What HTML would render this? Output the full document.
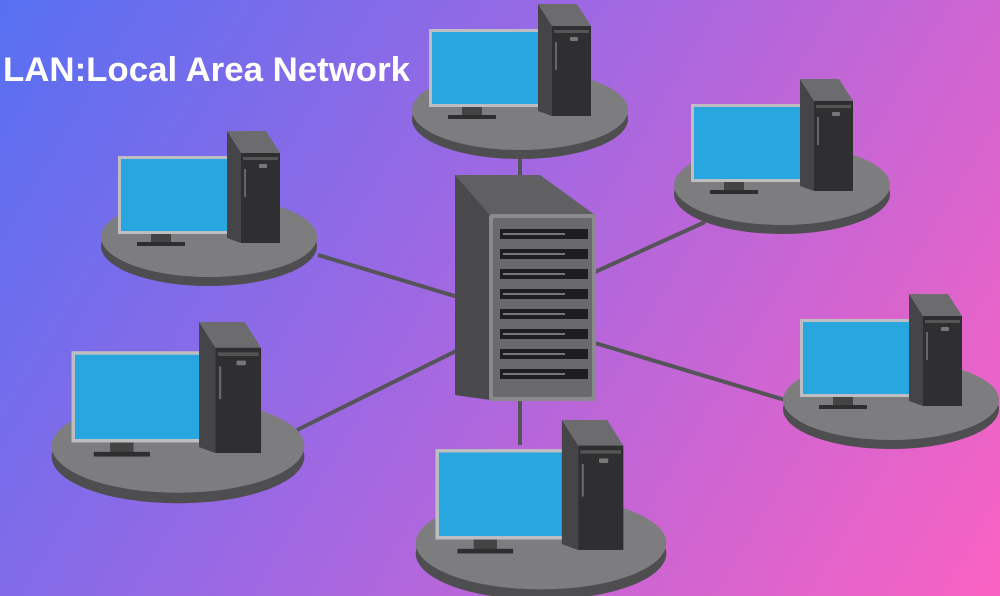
<!DOCTYPE html>
<html><head><meta charset="utf-8"><style>
html,body{margin:0;padding:0;width:1000px;height:596px;overflow:hidden}
</style></head><body>
<svg width="1000" height="596" viewBox="0 0 1000 596" xmlns="http://www.w3.org/2000/svg">
<defs>
<linearGradient id="bg" x1="0" y1="0" x2="1000" y2="596" gradientUnits="userSpaceOnUse">
<stop offset="0" stop-color="#5670f2"/>
<stop offset="0.45" stop-color="#a068e2"/>
<stop offset="1" stop-color="#fa62c2"/>
</linearGradient>
<g id="st">
<ellipse cx="0" cy="9" rx="108" ry="40" fill="#4e4e50"/>
<ellipse cx="0" cy="0" rx="108" ry="40" fill="#7d7d80"/>
<rect x="-91" y="-81" width="114" height="78" fill="#bdbdc2"/>
<rect x="-88" y="-78" width="108" height="72" fill="#27a6e0"/>
<rect x="-58" y="-3" width="20" height="9" fill="#444"/>
<rect x="-72" y="5" width="48" height="4" fill="#2e2e30"/>
<polygon points="18,-106 57,-106 71,-84 32,-84" fill="#6c6c6e"/>
<polygon points="18,-106 32,-84 32,6 18,1" fill="#454547"/>
<rect x="32" y="-84" width="39" height="90" fill="#2f2f31"/>
<rect x="34" y="-80" width="35" height="3" fill="#555"/>
<rect x="50" y="-73" width="8" height="4" rx="1" fill="#777"/>
<rect x="35" y="-68" width="2" height="28" fill="#666"/>
</g>
</defs>
<rect width="1000" height="596" fill="url(#bg)"/>
<g stroke="#555459" stroke-width="4">
<line x1="520" y1="150" x2="520" y2="178"/>
<line x1="318" y1="255" x2="458" y2="297"/>
<line x1="595" y1="272" x2="705" y2="222"/>
<line x1="297" y1="430" x2="458" y2="350"/>
<line x1="595" y1="343" x2="785" y2="400"/>
<line x1="520" y1="398" x2="520" y2="445"/>
</g>
<use href="#st" transform="translate(520,110)"/>
<use href="#st" transform="translate(209,237)"/>
<use href="#st" transform="translate(782,185)"/>
<use href="#st" transform="translate(178,446) scale(1.17)"/>
<use href="#st" transform="translate(891,400)"/>
<use href="#st" transform="translate(541,543) scale(1.16)"/>
<!-- server -->
<polygon points="455,175 540,175 595,215 490,215" fill="#606062"/>
<polygon points="455,175 490,215 490,400 455,395" fill="#4a4a4c"/>
<rect x="489" y="214" width="107" height="187" rx="3" fill="#8a8a8c"/>
<rect x="493" y="218" width="99" height="179" rx="2" fill="#6a6a6c"/>
<g fill="#1e1e20">
<rect x="500" y="229" width="88" height="10"/><rect x="500" y="249" width="88" height="10"/>
<rect x="500" y="269" width="88" height="10"/><rect x="500" y="289" width="88" height="10"/>
<rect x="500" y="309" width="88" height="10"/><rect x="500" y="329" width="88" height="10"/>
<rect x="500" y="349" width="88" height="10"/><rect x="500" y="369" width="88" height="10"/>
</g>
<g fill="#777">
<rect x="503" y="233" width="62" height="2"/><rect x="503" y="253" width="62" height="2"/>
<rect x="503" y="273" width="62" height="2"/><rect x="503" y="293" width="62" height="2"/>
<rect x="503" y="313" width="62" height="2"/><rect x="503" y="333" width="62" height="2"/>
<rect x="503" y="353" width="62" height="2"/><rect x="503" y="373" width="62" height="2"/>
</g>
<text x="3" y="81" font-family="Liberation Sans, sans-serif" font-weight="bold" font-size="34" fill="#ffffff" textLength="407" lengthAdjust="spacingAndGlyphs">LAN:Local Area Network</text>
</svg>
</body></html>
